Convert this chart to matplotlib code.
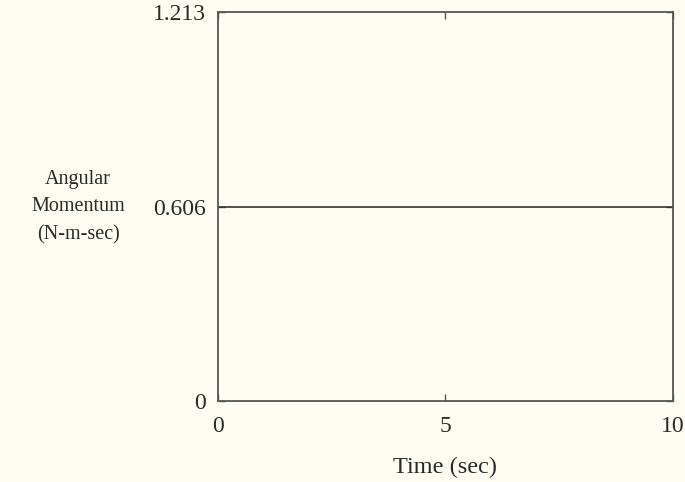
import matplotlib
matplotlib.use("Agg")
import matplotlib.pyplot as plt

time = [0, 10]
momentum = [0.606, 0.606]
xticks = [0, 5, 10]
yticks = [0, 0.606, 1.213]
yticklabels = ["0", "0.606", "1.213"]

plt.rcParams['font.family'] = ['Liberation Serif', 'DejaVu Serif']
bg = '#fdfdf3'
fig = plt.figure(figsize=(6.85, 4.82), dpi=100, facecolor=bg)
ax = fig.add_axes([0.3182, 0.168, 0.6636, 0.807])
ax.set_facecolor(bg)
ax.plot(time, momentum, color='#333333', lw=1.2)
ax.set_xlim(0, 10)
ax.set_ylim(0, 1.213)
ax.set_xticks(xticks)
ax.set_xticklabels([str(t) for t in xticks])
ax.set_yticks(yticks)
ax.set_yticklabels(yticklabels)
ax.tick_params(direction='in', top=True, right=True, length=5, width=1, color='#555555',
               labelsize=17, labelcolor='#2a2a2a')
ax.tick_params(axis='y', pad=9)
ax.tick_params(axis='x', pad=11)
for s in ax.spines.values():
    s.set_color('#555555')
    s.set_linewidth(1.3)
ax.set_xlabel('Time (sec)', fontsize=17.5, color='#2a2a2a', labelpad=14)
fig.text(78/685, 1-207/482, 'Angular\nMomentum\n(N-m-sec)', ha='center', va='center',
         fontsize=14.5, color='#2a2a2a', linespacing=1.6)
fig.savefig('out.png', dpi=100, facecolor=bg)
